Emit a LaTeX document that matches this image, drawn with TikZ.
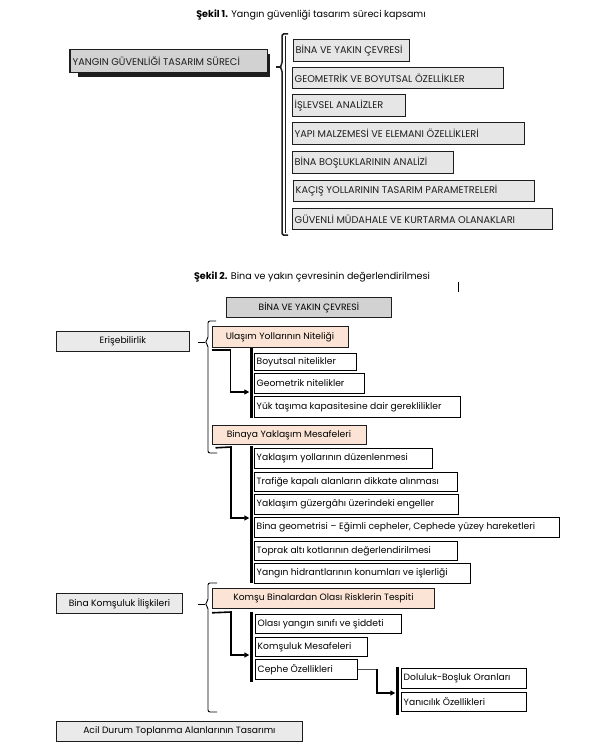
\documentclass[tikz,border=0pt]{standalone}
\usepackage{fontspec}
\setmainfont{Poppins}
\usetikzlibrary{arrows.meta}
\definecolor{peach}{HTML}{FBE4D5}
\definecolor{gA}{HTML}{E6E6E6}
\definecolor{gB}{HTML}{D2D2D2}
\definecolor{gC}{HTML}{EAEAEA}
\definecolor{ink}{HTML}{1E1E1E}
\tikzset{
  onebox/.style={draw=ink, line width=0.8bp, fill=gA, inner sep=0pt},
  mainbox/.style={draw=ink, line width=1bp, fill=gB, inner sep=0pt},
  hdrbox/.style={draw=ink, line width=0.8bp, fill=gB, inner sep=0pt},
  leftbox/.style={draw=ink, line width=0.8bp, fill=gC, inner sep=0pt},
  peachbox/.style={draw=ink, line width=0.8bp, fill=peach, inner sep=0pt},
  subbox/.style={draw=black, line width=0.8bp, fill=white, inner sep=0pt},
  upt/.style={inner sep=0pt, font=\fontsize{9.8}{11}\selectfont, text=ink},
  lowt/.style={inner sep=0pt, font=\fontsize{9.2}{10}\selectfont, text=black},
  titlet/.style={inner sep=0pt, font=\fontsize{9.6}{11}\selectfont, text=black},
  barnode/.style={fill=black, draw=none, inner sep=0pt, minimum width=3bp},
  arr/.style={line width=1.6bp, -{Triangle[length=5bp,width=5bp]}},
  bracethick/.style={line width=1.5bp, rounded corners=1.5bp},
  bracethin/.style={line width=0.9bp, rounded corners=2bp},
}
\newcommand\mkbox[8]{%
  \pgfmathsetmacro\mybw{#4-#2}\pgfmathsetmacro\mybh{#5-#3}%
  \node[#6, anchor=north west, minimum width=\mybw bp, minimum height=\mybh bp] (#1) at (#2,#3) {};%
  \node[#7, anchor=west] (#1t) at ([xshift=2.5bp]#1.west) {#8};}
\newcommand\mkcbox[8]{%
  \pgfmathsetmacro\mybw{#4-#2}\pgfmathsetmacro\mybh{#5-#3}%
  \node[#6, anchor=north west, minimum width=\mybw bp, minimum height=\mybh bp] (#1) at (#2,#3) {};%
  \node[#7] (#1t) at (#1.center) {#8};}
\begin{document}
\begin{tikzpicture}[x=1bp,y=-1bp]
\useasboundingbox[fill=white] (0,0) rectangle (600,753);

% ---------- Figure 1 ----------
\node[titlet] (title1) at (311,15) {\textbf{Şekil 1.} Yangın güvenliği tasarım süreci kapsamı};

\fill[ink] (78,54) rectangle (269.5,77);
\mkbox{main}{70}{49}{267}{72}{mainbox}{upt}{YANGIN GÜVENLİĞİ TASARIM SÜRECİ}
\draw[ink, line width=2bp] (main.north west) -- (main.south west);

\mkbox{fa}{293}{39}{409}{61}{onebox}{upt}{BİNA VE YAKIN ÇEVRESİ}
\mkbox{fb}{292}{67}{503}{88}{onebox}{upt}{GEOMETRİK VE BOYUTSAL ÖZELLİKLER}
\mkbox{fc}{292}{94}{405}{116}{onebox}{upt}{İŞLEVSEL ANALİZLER}
\mkbox{fd}{292}{122}{524}{144}{onebox}{upt}{YAPI MALZEMESİ VE ELEMANI ÖZELLİKLERİ}
\mkbox{fe}{292}{151}{453}{173}{onebox}{upt}{BİNA BOŞLUKLARININ ANALİZİ}
\mkbox{ff}{293}{180}{534}{201}{onebox}{upt}{KAÇIŞ YOLLARININ TASARIM PARAMETRELERİ}
\mkbox{fg}{292}{208}{552}{229}{onebox}{upt}{GÜVENLİ MÜDAHALE VE KURTARMA OLANAKLARI}

\coordinate (b1top) at (288,34);
\coordinate (b1tip) at (276,67);
\coordinate (b1bot) at (288,235);
\draw[bracethick, ink] (b1top) -- (282,34) -- (282,64) -- (280,67) -- (282,70) -- (282,235) -- (b1bot);
\draw[ink, line width=1.5bp] (b1tip) -- (281,67);
\draw[ink, line width=0.6bp] (285,36) -- (285,233);

% ---------- Figure 2 ----------
\node[titlet] (title2) at (312,277) {\textbf{Şekil 2.} Bina ve yakın çevresinin değerlendirilmesi};
\coordinate (mk1) at (458,282);
\coordinate (mk2) at (458,292);
\draw[line width=0.8bp] (mk1) -- (mk2);

\mkcbox{hdr}{226}{297}{391}{317}{hdrbox}{lowt}{BİNA VE YAKIN ÇEVRESİ}

\mkcbox{eris}{56}{331}{189}{351}{leftbox}{lowt}{Erişebilirlik}
\mkcbox{komsu}{56}{593}{182}{613}{leftbox}{lowt}{Bina Komşuluk İlişkileri}
\mkcbox{acil}{56}{721}{302}{741}{leftbox}{lowt}{Acil Durum Toplanma Alanlarının Tasarımı}

% brace 2
\coordinate (b2tip) at (198,342);
\draw[bracethin] (216,321) -- (208,321) -- (208,339) -- (205,342) -- (208,345) -- (208,453) -- (217,453);
\draw[line width=0.9bp] (b2tip) -- (205,342);
% brace 3
\coordinate (b3tip) at (198,604);
\draw[bracethin] (217,583) -- (208,583) -- (208,601) -- (205,604) -- (208,607) -- (208,712) -- (217,712);
\draw[line width=0.9bp] (b3tip) -- (205,604);

\mkcbox{ulasim}{211.5}{326}{347.5}{347}{peachbox}{lowt}{Ulaşım Yollarının Niteliği}
\mkcbox{binaya}{211.5}{425}{365.5}{444}{peachbox}{lowt}{Binaya Yaklaşım Mesafeleri}
\mkcbox{risk}{212}{588}{434}{608}{peachbox}{lowt}{Komşu Binalardan Olası Risklerin Tespiti}

% bars
\node[barnode, anchor=north, minimum height=70bp] (bar1) at (251,348) {};
\node[barnode, anchor=north, minimum height=137bp] (bar2) at (251,446) {};
\node[barnode, anchor=north, minimum height=70bp] (bar3) at (251,612) {};
\node[barnode, anchor=north, minimum height=48bp] (bar4) at (397,667) {};

% sub boxes
\mkbox{sa}{254}{353}{356}{370}{subbox}{lowt}{Boyutsal nitelikler}
\mkbox{sb}{254}{373}{364}{393}{subbox}{lowt}{Geometrik nitelikler}
\mkbox{sc}{254}{396}{460}{417}{subbox}{lowt}{Yük taşıma kapasitesine dair gereklilikler}

\mkbox{ta}{254}{448}{432}{468}{subbox}{lowt}{Yaklaşım yollarının düzenlenmesi}
\mkbox{tb}{254}{472}{457}{491}{subbox}{lowt}{Trafiğe kapalı alanların dikkate alınması}
\mkbox{tc}{254}{494}{458}{514}{subbox}{lowt}{Yaklaşım güzergâhı üzerindeki engeller}
\mkbox{td}{254}{517}{559}{537}{subbox}{lowt}{Bina geometrisi – Eğimli cepheler, Cephede yüzey hareketleri}
\mkbox{te}{254}{541}{457}{560}{subbox}{lowt}{Toprak altı kotlarının değerlendirilmesi}
\mkbox{tf}{254}{563}{470}{583}{subbox}{lowt}{Yangın hidrantlarının konumları ve işlerliği}

\mkbox{ua}{255}{614}{401}{633}{subbox}{lowt}{Olası yangın sınıfı ve şiddeti}
\mkbox{ub}{255}{637}{367}{656}{subbox}{lowt}{Komşuluk Mesafeleri}
\mkbox{uc}{255}{659}{357}{679}{subbox}{lowt}{Cephe Özellikleri}

\mkbox{va}{401}{668}{526}{688}{subbox}{lowt}{Doluluk-Boşluk Oranları}
\mkbox{vb}{401}{692}{526}{711}{subbox}{lowt}{Yanıcılık Özellikleri}

% elbow arrows
\draw[arr] ([yshift=-2bp]ulasim.south west) -- ++(19,0) |- (bar1.west |- 0,392);
\draw[arr] ([xshift=4bp,yshift=-3bp]binaya.south west) -- (231,447) |- (bar2.west |- 0,518);
\draw[arr] ([yshift=-4bp]risk.south west) -- (231,612) |- (bar3.west |- 0,655);
\coordinate (c4) at (377,669);
\draw[line width=1bp, black!70] (uc.east |- c4) -- (c4);
\draw[arr] (c4) |- (bar4.west |- 0,693);
\end{tikzpicture}
\end{document}
